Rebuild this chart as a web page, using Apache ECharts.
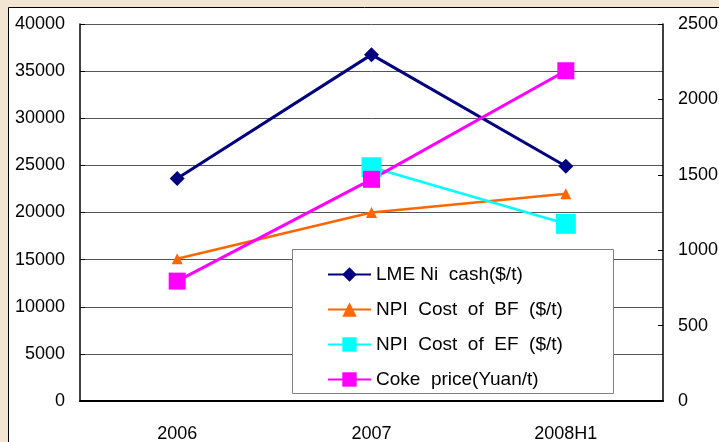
<!DOCTYPE html>
<html>
<head>
<meta charset="utf-8">
<script src="https://cdn.jsdelivr.net/npm/echarts@6/dist/echarts.min.js"></script>
<style>
html, body { margin: 0; padding: 0; }
#container { width: 719px; height: 442px; }
</style>
</head>
<body>
<div id="container"></div>
<script>
var categories = ['2006', '2007', '2008H1'];
var lmeNiCash = [23600, 36750, 24900];
var npiCostBF = [15100, 20000, 22000];
var npiCostEF = [null, 24800, 18800];
var cokePrice = [795, 1470, 2190];

var seriesNames = ['LME Ni  cash($/t)', 'NPI  Cost  of  BF  ($/t)', 'NPI  Cost  of  EF  ($/t)', 'Coke  price(Yuan/t)'];

var font = '"Liberation Sans", Arial, sans-serif';

var dom = document.getElementById('container');
var myChart = echarts.init(dom);

function plain(v) { return String(v); }

var option = {
    animation: false,
    backgroundColor: '#f2e6d3',
    graphic: [
        {
            type: 'rect',
            z: -10,
            shape: { x: 8.5, y: 7.5, width: 720, height: 440 },
            style: { fill: '#fff', stroke: '#000', lineWidth: 1 }
        },
        {
            type: 'rect',
            z: 1,
            shape: { x: 292.5, y: 249.5, width: 321, height: 144 },
            style: { fill: '#fff', stroke: '#808080', lineWidth: 1 }
        }
    ],
    grid: {
        left: 80,
        right: 56,
        top: 24,
        bottom: 41,
        outerBoundsMode: 'none'
    },
    legend: {
        orient: 'vertical',
        left: 322,
        top: 260,
        itemWidth: 43,
        itemHeight: 18,
        itemGap: 16,
        z: 5,
        textStyle: {
            fontFamily: font,
            fontSize: 19,
            color: '#000'
        },
        data: seriesNames
    },
    xAxis: {
        type: 'category',
        data: categories,
        boundaryGap: true,
        axisLine: { lineStyle: { color: '#000', width: 2 } },
        axisTick: { inside: true, length: 5, lineStyle: { color: '#555' } },
        axisLabel: {
            margin: 24,
            fontFamily: font,
            fontSize: 18,
            color: '#000'
        }
    },
    yAxis: [
        {
            type: 'value',
            min: 0,
            max: 40000,
            interval: 5000,
            axisLine: { show: true, lineStyle: { color: '#000', width: 1.5 } },
            axisTick: { show: true, inside: true, length: 5, lineStyle: { color: '#000' } },
            splitLine: { show: true, lineStyle: { color: '#555', width: 1 } },
            axisLabel: {
                margin: 15,
                formatter: plain,
                fontFamily: font,
                fontSize: 18,
                color: '#000'
            }
        },
        {
            type: 'value',
            min: 0,
            max: 2500,
            interval: 500,
            position: 'right',
            axisLine: { show: true, lineStyle: { color: '#000', width: 1.5 } },
            axisTick: { show: true, inside: true, length: 5, lineStyle: { color: '#000' } },
            splitLine: { show: false },
            axisLabel: {
                margin: 15,
                formatter: plain,
                fontFamily: font,
                fontSize: 18,
                color: '#000'
            }
        }
    ],
    series: [
        {
            name: seriesNames[0],
            type: 'line',
            yAxisIndex: 0,
            symbol: 'diamond',
            symbolSize: 15,
            itemStyle: { color: '#000080' },
            lineStyle: { color: '#000080', width: 3 },
            data: lmeNiCash
        },
        {
            name: seriesNames[1],
            type: 'line',
            yAxisIndex: 0,
            symbol: 'triangle',
            symbolSize: 11,
            itemStyle: { color: '#ff6600' },
            lineStyle: { color: '#ff6600', width: 2.5 },
            data: npiCostBF
        },
        {
            name: seriesNames[2],
            type: 'line',
            yAxisIndex: 0,
            symbol: 'rect',
            symbolSize: 20,
            itemStyle: { color: '#00ffff' },
            lineStyle: { color: '#00ffff', width: 2.5 },
            data: npiCostEF
        },
        {
            name: seriesNames[3],
            type: 'line',
            yAxisIndex: 1,
            symbol: 'rect',
            symbolSize: 17,
            itemStyle: { color: '#ff00ff' },
            lineStyle: { color: '#ff00ff', width: 3 },
            data: cokePrice
        }
    ]
};

myChart.setOption(option);
</script>
</body>
</html>
